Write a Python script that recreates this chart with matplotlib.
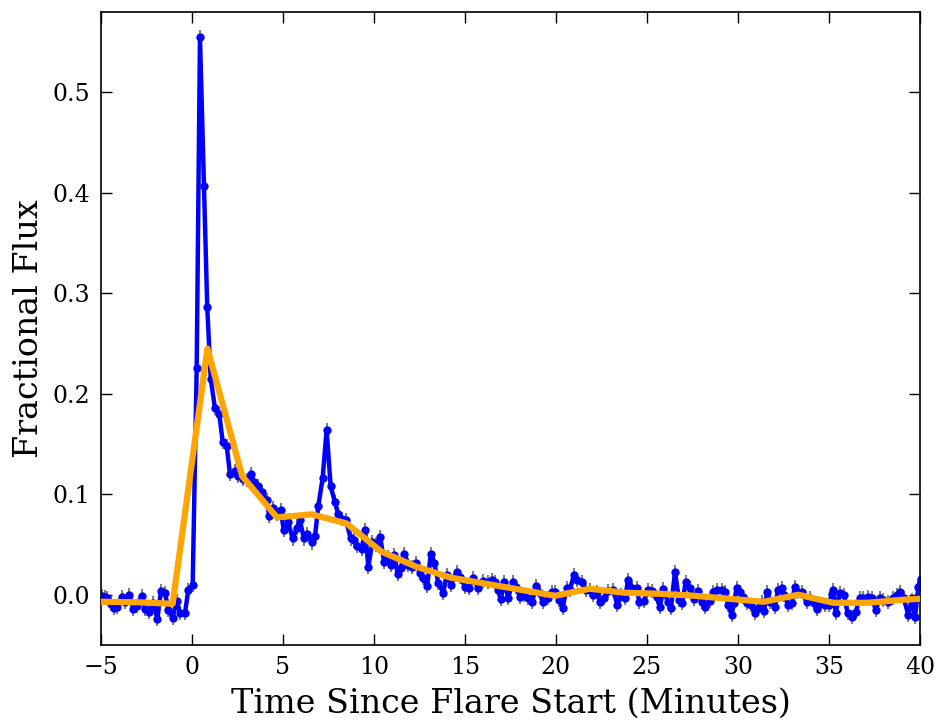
import numpy as np
import matplotlib
matplotlib.use('Agg')
import matplotlib.pyplot as plt

# short-cadence light curve (minutes, fractional flux)
time = [-4.95, -4.78, -4.65, -4.47, -4.29, -4.10, -3.86, -3.68, -3.44, -3.22,
        -3.04, -2.76, -2.58, -2.34, -2.12, -1.90, -1.70, -1.48, -1.30, -1.06,
        -0.84, -0.66, -0.38, -0.20, 0.04, 0.26, 0.44, 0.66, 0.84, 1.03,
        1.26, 1.50, 1.69, 1.91, 2.09, 2.36, 2.54, 2.79, 3.01, 3.23,
        3.41, 3.64, 3.87, 4.10, 4.25, 4.47, 4.65, 4.87, 5.05, 5.29,
        5.53, 5.75, 5.93, 6.15, 6.34, 6.58, 6.76, 6.94, 7.18, 7.40,
        7.62, 7.86, 8.04, 8.27, 8.46, 8.72, 8.93, 9.09, 9.33, 9.51,
        9.69, 9.91, 10.13, 10.35, 10.55, 10.75, 10.95, 11.12, 11.30, 11.48,
        11.66, 11.88, 12.10, 12.29, 12.53, 12.71, 12.93, 13.12, 13.31, 13.53,
        13.81, 13.99, 14.23, 14.54, 14.73, 15.00, 15.22, 15.46, 15.70, 16.01,
        16.25, 16.47, 16.65, 16.83, 16.98, 17.14, 17.38, 17.62, 17.80, 18.02,
        18.24, 18.48, 18.70, 18.90, 19.12, 19.30, 19.58, 19.76, 19.95, 20.18,
        20.37, 20.59, 20.77, 20.99, 21.17, 21.41, 21.65, 21.87, 22.05, 22.24,
        22.42, 22.64, 22.86, 23.15, 23.37, 23.57, 23.79, 23.97, 24.19, 24.43,
        24.58, 24.85, 25.04, 25.29, 25.53, 25.71, 25.90, 26.14, 26.32, 26.54,
        26.76, 26.94, 27.13, 27.36, 27.60, 27.82, 28.01, 28.19, 28.46, 28.64,
        28.86, 29.10, 29.29, 29.47, 29.65, 29.78, 29.93, 30.11, 30.29, 30.51,
        30.70, 30.93, 31.12, 31.30, 31.43, 31.61, 31.76, 32.03, 32.21, 32.40,
        32.53, 32.76, 32.95, 33.13, 33.26, 33.50, 33.77, 33.96, 34.18, 34.34,
        34.51, 34.78, 35.00, 35.15, 35.24, 35.37, 35.60, 35.82, 36.02, 36.25,
        36.47, 36.70, 36.88, 37.13, 37.35, 37.57, 37.80, 37.98, 38.22, 38.50,
        38.74, 38.92, 39.10, 39.36, 39.54, 39.73, 39.91, 40.05]
flux = [-0.001, -0.002, -0.003, -0.009, -0.013, -0.012, -0.002, -0.007, 0.000, -0.014,
        -0.011, -0.001, -0.014, -0.017, -0.008, -0.024, 0.004, 0.002, -0.015, -0.023,
        -0.006, -0.018, -0.018, 0.005, 0.010, 0.226, 0.555, 0.407, 0.286, 0.215,
        0.186, 0.180, 0.152, 0.148, 0.120, 0.123, 0.118, 0.115, 0.114, 0.120,
        0.112, 0.108, 0.102, 0.094, 0.078, 0.086, 0.080, 0.084, 0.064, 0.072,
        0.056, 0.066, 0.074, 0.056, 0.060, 0.052, 0.058, 0.088, 0.116, 0.164,
        0.108, 0.092, 0.080, 0.075, 0.074, 0.056, 0.054, 0.049, 0.046, 0.064,
        0.028, 0.052, 0.050, 0.057, 0.033, 0.038, 0.030, 0.040, 0.021, 0.027,
        0.041, 0.030, 0.028, 0.032, 0.022, 0.017, 0.009, 0.041, 0.032, 0.012,
        0.002, 0.020, 0.010, 0.023, 0.018, 0.008, 0.007, 0.017, 0.007, 0.014,
        0.013, 0.015, 0.013, 0.005, -0.004, 0.013, -0.003, 0.013, 0.008, -0.002,
        0.000, -0.003, -0.007, 0.009, 0.002, -0.007, -0.003, 0.003, 0.003, -0.005,
        -0.013, 0.007, 0.005, 0.020, 0.015, 0.013, 0.005, 0.005, 0.000, 0.003,
        -0.007, -0.003, 0.004, 0.005, -0.010, 0.000, -0.003, 0.015, 0.007, 0.007,
        -0.007, -0.006, 0.005, 0.004, -0.002, -0.012, 0.006, -0.007, -0.013, 0.023,
        -0.005, -0.008, 0.013, 0.007, -0.004, 0.004, -0.007, -0.012, -0.006, 0.003,
        0.005, 0.005, 0.003, -0.010, -0.020, -0.008, 0.007, 0.003, -0.002, -0.008,
        -0.010, -0.018, -0.013, -0.007, -0.016, 0.003, -0.007, -0.012, 0.005, 0.007,
        0.000, -0.010, -0.008, 0.008, 0.003, 0.003, -0.007, -0.003, -0.008, -0.014,
        -0.009, -0.010, -0.010, 0.001, 0.005, -0.018, 0.002, 0.000, -0.018, -0.022,
        -0.017, -0.003, -0.003, -0.002, -0.003, -0.015, -0.003, -0.005, -0.007, -0.003,
        0.000, 0.003, -0.003, -0.020, -0.005, -0.022, 0.008, 0.016]
flux_err = 0.007

# coarse-cadence model curve
model_time = [-6.79, -4.88, -2.97, -1.06, 0.85, 2.76, 4.67, 6.58, 8.49, 10.40,
              12.31, 14.22, 16.13, 18.04, 19.95, 21.86, 23.77, 25.68, 27.59, 29.50,
              31.41, 33.32, 35.23, 37.14, 39.05, 40.96]
model_flux = [-0.006, -0.007, -0.0075, -0.009, 0.245, 0.118, 0.077, 0.080, 0.071, 0.043,
              0.028, 0.017, 0.011, 0.005, -0.001, 0.006, 0.002, 0.001, -0.001, -0.004,
              -0.007, 0.000, -0.008, -0.008, -0.005, -0.003]

plt.rcParams['font.family'] = 'DejaVu Serif'
plt.rcParams['xtick.direction'] = 'in'
plt.rcParams['ytick.direction'] = 'in'

fig = plt.figure(figsize=(9.4, 7.2), dpi=100)
ax = fig.add_axes([0.1074, 0.1042, 0.8713, 0.8791])

ax.errorbar(time, flux, yerr=flux_err, fmt='none', ecolor='gray', elinewidth=1.5, zorder=1)
ax.plot(time, flux, '-', color='blue', lw=3.2, marker='o', ms=5, mec='blue', zorder=2)
ax.plot(model_time, model_flux, '-', color='orange', lw=4.5, zorder=3)

ax.set_xlim(-5, 40)
ax.set_ylim(-0.05, 0.58)
ax.set_xticks(np.arange(-5, 41, 5))
ax.set_yticks([0.0, 0.1, 0.2, 0.3, 0.4, 0.5])
ax.tick_params(axis='both', which='major', labelsize=17, length=8, width=1,
               top=True, right=True, pad=8)
for sp in ax.spines.values():
    sp.set_linewidth(1.2)

ax.set_xlabel('Time Since Flare Start (Minutes)', fontsize=24, labelpad=6)
ax.set_ylabel('Fractional Flux', fontsize=24, labelpad=5)

fig.savefig('out.png', dpi=100)
